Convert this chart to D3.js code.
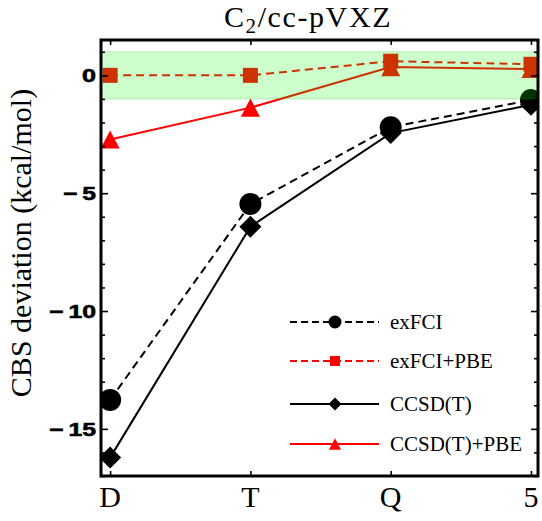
<!DOCTYPE html>
<html>
<head>
<meta charset="utf-8">
<script src="https://cdn.jsdelivr.net/npm/d3@7"></script>
<style>
    body { margin: 0; background: #fff; }
    svg { display: block; }
</style>
</head>
<body>
<div id="chart"></div>
<script>
// basis set cardinal numbers on the x axis
const categories = ['D', 'T', 'Q', '5'];

// CBS deviations in kcal/mol
const exFCI = [-13.77, -5.46, -2.2, -1.05];
const exFCIPBE = [0.0, 0.0, 0.6, 0.47];
const ccsdt = [-16.22, -6.42, -2.45, -1.25];
const ccsdtPBE = [-2.72, -1.37, 0.35, 0.27];

const yMajorTicks = [0, -5, -10, -15];
const chemicalBand = [-1, 1];

const SERIF = '"Palatino Linotype", "Book Antiqua", Palatino, "Liberation Serif", serif';
const SANS = '"Liberation Sans", Arial, sans-serif';

const width = 542;
const height = 521;
const plot = { left: 101, right: 538, top: 40, bottom: 476 };

const series = [
    { name: 'CCSD(T)+PBE', values: ccsdtPBE, color: '#ff0000', dash: null, marker: 'triangle' },
    { name: 'CCSD(T)', values: ccsdt, color: '#000000', dash: null, marker: 'diamond' },
    { name: 'exFCI+PBE', values: exFCIPBE, color: '#ff0000', dash: '8,5', marker: 'square' },
    { name: 'exFCI', values: exFCI, color: '#000000', dash: '8,5', marker: 'circle' },
];
const legendOrder = ['exFCI', 'exFCI+PBE', 'CCSD(T)', 'CCSD(T)+PBE'];

const svg = d3.select('#chart').append('svg')
    .attr('width', width)
    .attr('height', height);

const x = d3.scaleLinear()
    .domain([-0.065, 3.05])
    .range([plot.left, plot.right]);
const y = d3.scaleLinear()
    .domain([-17, 1.5])
    .range([plot.bottom, plot.top]);

function markerPath(type, size) {
    if (type === 'circle') {
        return d3.symbol(d3.symbolCircle, Math.PI * size * size)();
    }
    if (type === 'square') {
        return d3.symbol(d3.symbolSquare, size * size)();
    }
    if (type === 'diamond') {
        const s = size;
        return 'M0,' + (-s) + 'L' + s + ',0L0,' + s + 'L' + (-s) + ',0Z';
    }
    // triangle, flat base, pointing up
    const h = size * 0.95;
    return 'M0,' + (-h / 2) + 'L' + (size / 2) + ',' + (h / 2) + 'L' + (-size / 2) + ',' + (h / 2) + 'Z';
}

const plotSizes = { circle: 11, square: 15, diamond: 11, triangle: 19 };
const legendSizes = { circle: 6.5, square: 10, diamond: 6.5, triangle: 12 };

svg.append('clipPath').attr('id', 'plot-clip')
    .append('rect')
    .attr('x', plot.left)
    .attr('y', plot.top)
    .attr('width', plot.right - plot.left)
    .attr('height', plot.bottom - plot.top);

const dataLayer = svg.append('g').attr('clip-path', 'url(#plot-clip)');

const line = d3.line()
    .x((d, i) => x(i))
    .y((d) => y(d));

series.forEach(function (s) {
    const g = dataLayer.append('g');
    g.append('path')
        .datum(s.values)
        .attr('d', line)
        .attr('fill', 'none')
        .attr('stroke', s.color)
        .attr('stroke-width', 2)
        .attr('stroke-dasharray', s.dash);
    g.selectAll('path.mark')
        .data(s.values)
        .enter()
        .append('path')
        .attr('class', 'mark')
        .attr('d', markerPath(s.marker, plotSizes[s.marker]))
        .attr('transform', (d, i) => 'translate(' + x(i) + ',' + y(d) + ')')
        .attr('fill', s.color);
});

// chemical accuracy band, drawn over the data like the original
svg.append('rect')
    .attr('x', plot.left)
    .attr('y', y(chemicalBand[1]))
    .attr('width', plot.right - plot.left)
    .attr('height', y(chemicalBand[0]) - y(chemicalBand[1]))
    .attr('fill', 'rgba(0,255,0,0.2)')
    .attr('stroke', 'rgba(0,200,0,0.25)')
    .attr('stroke-width', 1);

// ticks
const minorTicks = d3.range(-17, 2).filter((v) => yMajorTicks.indexOf(v) < 0);

function styleAxis(g) {
    g.select('.domain').remove();
    g.selectAll('line').attr('stroke', '#000').attr('stroke-width', 1.6);
    g.selectAll('text').remove();
}

svg.append('g')
    .attr('transform', 'translate(' + plot.left + ',0)')
    .call(d3.axisLeft(y).tickValues(minorTicks).tickSize(-4))
    .call(styleAxis);
svg.append('g')
    .attr('transform', 'translate(' + plot.left + ',0)')
    .call(d3.axisLeft(y).tickValues(yMajorTicks).tickSize(-7))
    .call(styleAxis);
svg.append('g')
    .attr('transform', 'translate(' + plot.right + ',0)')
    .call(d3.axisRight(y).tickValues(minorTicks).tickSize(-4))
    .call(styleAxis);
svg.append('g')
    .attr('transform', 'translate(' + plot.right + ',0)')
    .call(d3.axisRight(y).tickValues(yMajorTicks).tickSize(-7))
    .call(styleAxis);
svg.append('g')
    .attr('transform', 'translate(0,' + plot.top + ')')
    .call(d3.axisTop(x).tickValues(d3.range(categories.length)).tickSize(-5))
    .call(styleAxis);
svg.append('g')
    .attr('transform', 'translate(0,' + plot.bottom + ')')
    .call(d3.axisBottom(x).tickValues(d3.range(categories.length)).tickSize(-5))
    .call(styleAxis);

// y tick labels: wide bold sans like the original, stretched to the measured widths
function yLabel(d) {
    return d < 0 ? '\u2212\u2009' + Math.abs(d) : String(d);
}
function yLabelWidth(d) {
    const digits = String(Math.abs(d)).length;
    return digits * 14 + (d < 0 ? 19 : 0);
}
svg.append('g')
    .selectAll('text')
    .data(yMajorTicks)
    .enter()
    .append('text')
    .attr('x', (d) => plot.left - 5 - yLabelWidth(d))
    .attr('y', (d) => y(d) + 7)
    .attr('textLength', yLabelWidth)
    .attr('lengthAdjust', 'spacingAndGlyphs')
    .style('font-family', SANS)
    .style('font-weight', 'bold')
    .style('font-size', '19px')
    .style('fill', '#000')
    .style('stroke', '#000')
    .style('stroke-width', '0.6px')
    .text(yLabel);

// x tick labels
svg.append('g')
    .selectAll('text')
    .data(categories)
    .enter()
    .append('text')
    .attr('x', (d, i) => x(i))
    .attr('y', plot.bottom + 31)
    .attr('text-anchor', 'middle')
    .style('font-family', SERIF)
    .style('font-size', '30px')
    .attr('fill', '#000')
    .text((d) => d);

// frame
svg.append('rect')
    .attr('x', plot.left)
    .attr('y', plot.top)
    .attr('width', plot.right - plot.left)
    .attr('height', plot.bottom - plot.top)
    .attr('fill', 'none')
    .attr('stroke', '#000')
    .attr('stroke-width', 3);

// title
const title = svg.append('text')
    .attr('x', 308)
    .attr('y', 27)
    .attr('text-anchor', 'middle')
    .style('font-family', SERIF)
    .style('font-size', '30px')
    .style('letter-spacing', '1.6px');
title.append('tspan').text('C');
title.append('tspan').attr('dy', 6).style('font-size', '21px').text('2');
title.append('tspan').attr('dy', -6).text('/cc-pVXZ');

// y label
svg.append('text')
    .attr('transform', 'translate(31,243) rotate(-90)')
    .attr('text-anchor', 'middle')
    .style('font-family', SERIF)
    .style('font-size', '30px')
    .text('CBS deviation (kcal/mol)');

// legend
const legend = svg.append('g');
const legendRows = [322, 361, 404, 444];
legendOrder.forEach(function (name, i) {
    const s = series.find((d) => d.name === name);
    const row = legend.append('g').attr('transform', 'translate(0,' + legendRows[i] + ')');
    row.append('line')
        .attr('x1', 290)
        .attr('x2', 379)
        .attr('y1', 0)
        .attr('y2', 0)
        .attr('stroke', s.color)
        .attr('stroke-width', 2)
        .attr('stroke-dasharray', s.dash ? '7,4' : null);
    row.append('path')
        .attr('d', markerPath(s.marker, legendSizes[s.marker]))
        .attr('transform', 'translate(335,0)')
        .attr('fill', s.color);
    row.append('text')
        .attr('x', 390)
        .attr('y', 7)
        .style('font-family', SERIF)
        .style('font-size', '21px')
        .text(name);
});
</script>
</body>
</html>
